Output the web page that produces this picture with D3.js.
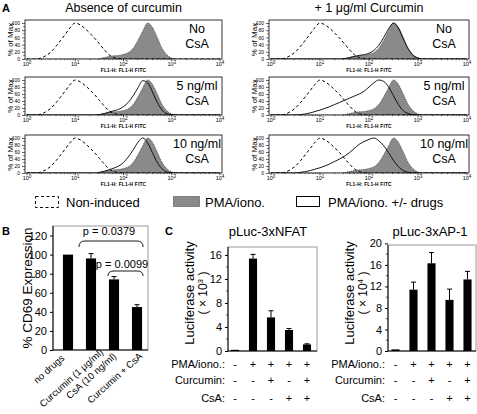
<!DOCTYPE html>
<html><head><meta charset="utf-8">
<script src="https://cdn.jsdelivr.net/npm/d3@7"></script>
<style>body{margin:0;background:#fff} svg{display:block;font-family:"Liberation Sans",Arial,sans-serif}</style>
</head><body><svg id="c" width="477" height="414"></svg>
<script>
// ---------- DATA ----------
// Panel A: flow histograms, log10(FL1-H) grid and % of Max values
const fl1Log = [0.0,0.1,0.2,0.3,0.4,0.5,0.6,0.7,0.8,0.9,1.0,1.1,1.2,1.3,1.4,1.5,1.6,1.7,1.8,1.9,2.0,2.1,2.2,2.3,2.4,2.5,2.6,2.7,2.8,2.9,3.0,3.1,3.2,3.3,3.4,3.5,3.6,3.7,3.8,3.9,4.0];
const nonInduced = [0,0,0,3,10,20,35,52,70,88,100,95,85,72,58,42,26,12,4,1,0,0,0,0,0,0,0,0,0,0,0,0,0,0,0,0,0,0,0,0,0];
const pmaIono    = [0,0,0,0,0,0,0,0,0,0,0,0,0,0,0,1,4,7,9,10,13,18,30,52,78,100,88,60,30,12,3,0,0,0,0,0,0,0,0,0,0];
const curcOnly   = [0,0,0,0,0,0,0,0,0,0,0,0,0,0,0,1,4,7,10,12,16,24,38,60,84,100,86,56,28,10,3,0,0,0,0,0,0,0,0,0,0];
const csa5       = [0,0,0,0,0,0,0,0,0,0,0,0,0,0,0,1,4,8,12,16,24,36,55,78,98,92,66,36,14,4,1,0,0,0,0,0,0,0,0,0,0];
const csa10      = [0,0,0,0,0,0,0,0,0,0,0,0,0,0,0,2,5,9,14,20,30,46,66,88,100,86,58,30,12,3,0,0,0,0,0,0,0,0,0,0,0];
const curcCsa5   = [0,0,0,0,0,0,1,3,6,10,14,19,24,30,36,42,48,54,60,68,80,92,100,96,80,55,30,12,4,1,0,0,0,0,0,0,0,0,0,0,0];
const curcCsa10  = [0,0,0,0,0,0,2,4,7,11,15,20,26,33,40,48,58,70,82,90,96,100,92,78,58,36,18,7,2,0,0,0,0,0,0,0,0,0,0,0,0];
const columnTitles = ["Absence of curcumin", "+ 1 \u03bcg/ml Curcumin"];
const rowLabels = [["No","CsA"],["5 ng/ml","CsA"],["10 ng/ml","CsA"]];
const histDecades = [0,1,2,3,4];
const histYTicks = [0,20,40,60,80,100];

// Panel B
const cd69Labels = ["no drugs","Curcumin (1 \u03bcg/ml)","CsA (10 ng/ml)","Curcumin + CsA"];
const cd69Values = [100, 96, 74, 45];
const cd69Errors = [0, 5, 3, 2.5];
const cd69Ticks = [0,20,40,60,80,100,120];
const pValues = ["p = 0.0379","p = 0.0099"];

// Panel C
const lucConditions = ["1","2","3","4","5"];
const nfatValues = [0.2, 15.4, 5.6, 3.5, 1.1];
const nfatErrors = [0, 0.7, 1.1, 0.25, 0.1];
const nfatTicks = [0,4,8,12,16];
const ap1Values = [0.3, 11.4, 16.3, 9.5, 13.3];
const ap1Errors = [0, 1.4, 2.0, 2.0, 1.5];
const ap1Ticks = [0,4,8,12,16,20];
const pmaRow  = ["-","+","+","+","+"];
const curcRow = ["-","-","+","-","+"];
const csaRow  = ["-","-","-","+","+"];
const tableNames = ["PMA/iono.:","Curcumin:","CsA:"];

// ---------- DRAW ----------
const svg = d3.select("#c");

// ===== Panel A =====
svg.append("text").attr("x",2).attr("y",12).attr("font-size",11).attr("font-weight","bold").text("A");
const cols = [{x0:25,x1:222},{x0:269,x1:469}];
const rows = [{y0:20,y1:59},{y0:77,y1:115},{y0:135,y1:173}];
const drugs = [[null,csa5,csa10],[curcOnly,curcCsa5,curcCsa10]];

cols.forEach((c,ci)=>{
  svg.append("text").attr("x",(c.x0+c.x1)/2).attr("y",12).attr("text-anchor","middle")
    .attr("font-size",12.5).text(columnTitles[ci]);
  rows.forEach((r,ri)=>{
    const g = svg.append("g");
    const x = d3.scaleLinear().domain([0,4]).range([c.x0+2,c.x1-2]);
    const y = d3.scaleLinear().domain([0,100]).range([r.y1,r.y0+3]);
    const cid = `clip${ci}${ri}`;
    g.append("clipPath").attr("id",cid).append("rect")
      .attr("x",c.x0).attr("y",r.y0).attr("width",c.x1-c.x0).attr("height",r.y1-r.y0);
    const pg = g.append("g").attr("clip-path",`url(#${cid})`);
    const area = d3.area().x((d,i)=>x(fl1Log[i])).y0(y(0)).y1(d=>y(d)).curve(d3.curveMonotoneX);
    const line = d3.line().x((d,i)=>x(fl1Log[i])).y(d=>y(d)).curve(d3.curveMonotoneX);
    pg.append("path").datum(pmaIono).attr("d",area).attr("fill","#8a8a8a");
    pg.append("path").datum(pmaIono).attr("d",line).attr("fill","none").attr("stroke","#3a3a3a")
      .attr("stroke-width",0.8).attr("stroke-dasharray","1,1");
    pg.append("path").datum(nonInduced).attr("d",line).attr("fill","none").attr("stroke","#000")
      .attr("stroke-width",1).attr("stroke-dasharray","3,2.5");
    const dr = drugs[ci][ri];
    if(dr) pg.append("path").datum(dr).attr("d",line).attr("fill","none").attr("stroke","#000").attr("stroke-width",0.9);
    g.append("rect").attr("x",c.x0).attr("y",r.y0).attr("width",c.x1-c.x0).attr("height",r.y1-r.y0)
      .attr("fill","none").attr("stroke","#000").attr("stroke-width",0.8);
    // x axis ticks
    const minor = [];
    for(let d=0; d<4; d++) for(let k=2;k<10;k++) minor.push(d+Math.log10(k));
    g.selectAll(null).data(minor).join("line").attr("x1",v=>x(v)).attr("x2",v=>x(v))
      .attr("y1",r.y1).attr("y2",r.y1+1.2).attr("stroke","#000").attr("stroke-width",0.5);
    g.selectAll(null).data(histDecades).join("line").attr("x1",v=>x(v)).attr("x2",v=>x(v))
      .attr("y1",r.y1).attr("y2",r.y1+2.2).attr("stroke","#000").attr("stroke-width",0.7);
    const tl = g.selectAll(null).data(histDecades).join("text")
      .attr("x",v=>x(v)).attr("y",r.y1+7).attr("text-anchor","middle").attr("font-size",5.5);
    tl.append("tspan").text("10");
    tl.append("tspan").attr("dy",-2.5).attr("font-size",4.5).text(v=>v);
    g.append("text").attr("x",x(2)).attr("y",r.y1+13).attr("text-anchor","middle")
      .attr("font-size",4.8).attr("font-weight","bold").attr("letter-spacing",0.2).text("FL1-H: FL1-H   FITC");
    // y axis
    const ya = d3.axisLeft(y).tickValues(histYTicks).tickSize(3).tickFormat(d3.format("d"));
    const ag = g.append("g").attr("transform",`translate(${c.x0},0)`).call(ya);
    ag.select(".domain").remove();
    ag.selectAll("text").attr("font-size",5).attr("font-family",'"Liberation Sans",Arial').attr("dx",1);
    ag.selectAll("line").attr("stroke-width",0.6);
    g.selectAll(null).data([10,30,50,70,90]).join("line").attr("x1",c.x0-2).attr("x2",c.x0)
      .attr("y1",v=>y(v)).attr("y2",v=>y(v)).attr("stroke","#000").attr("stroke-width",0.5);
    g.append("text").attr("transform",`translate(${c.x0-12},${(r.y0+r.y1)/2}) rotate(-90)`)
      .attr("text-anchor","middle").attr("font-size",8).text("% of Max");
    // corner labels
    rowLabels[ri].forEach((t,li)=>{
      g.append("text").attr("x",c.x1-25).attr("y",r.y0+13+li*15).attr("text-anchor","middle")
        .attr("font-size",12.5).text(t);
    });
  });
});

// Legend
const lg = svg.append("g");
lg.append("rect").attr("x",35.5).attr("y",196.5).attr("width",23).attr("height",11).attr("fill","none")
  .attr("stroke","#000").attr("stroke-dasharray","3,2.5");
lg.append("text").attr("x",66).attr("y",207).attr("font-size",13).text("Non-induced");
lg.append("rect").attr("x",173.5).attr("y",196.5).attr("width",26).attr("height",10).attr("fill","#8a8a8a")
  .attr("stroke","#3a3a3a").attr("stroke-dasharray","1,1");
lg.append("text").attr("x",205).attr("y",207).attr("font-size",13).text("PMA/iono.");
lg.append("rect").attr("x",296.5).attr("y",196.5).attr("width",23).attr("height",10).attr("fill","#fff")
  .attr("stroke","#000");
lg.append("text").attr("x",328).attr("y",207).attr("font-size",13).text("PMA/iono. +/- drugs");

// ===== Panel B =====
svg.append("text").attr("x",2).attr("y",235).attr("font-size",11).attr("font-weight","bold").text("B");
const bL=53, bR=148, bT=226, bB=350;
const xB = d3.scaleBand().domain(cd69Labels).range([56.5,148.5]).paddingInner(0.56).paddingOuter(0.28);
const yB = d3.scaleLinear().domain([0,130]).range([bB,bT]);
const gB = svg.append("g");
gB.append("rect").attr("x",bL).attr("y",bT).attr("width",bR-bL).attr("height",bB-bT)
  .attr("fill","none").attr("stroke","#999").attr("stroke-width",1);
gB.selectAll(null).data(cd69Values).join("rect")
  .attr("x",(d,i)=>xB(cd69Labels[i])).attr("width",xB.bandwidth())
  .attr("y",d=>yB(d)).attr("height",d=>bB-yB(d)).attr("fill","#000");
cd69Values.forEach((v,i)=>{
  if(!cd69Errors[i]) return;
  const cx = xB(cd69Labels[i])+xB.bandwidth()/2;
  gB.append("line").attr("x1",cx).attr("x2",cx).attr("y1",yB(v)).attr("y2",yB(v+cd69Errors[i])).attr("stroke","#000");
  gB.append("line").attr("x1",cx-2.5).attr("x2",cx+2.5).attr("y1",yB(v+cd69Errors[i])).attr("y2",yB(v+cd69Errors[i])).attr("stroke","#000");
});
const aB = gB.append("g").attr("transform",`translate(${bL},0)`).call(d3.axisLeft(yB).tickValues(cd69Ticks).tickSize(3));
aB.select(".domain").remove();
aB.selectAll("text").attr("font-size",11).attr("font-family",'"Liberation Sans",Arial');
gB.append("line").attr("x1",bL).attr("x2",bL).attr("y1",bT).attr("y2",bB).attr("stroke","#000");
gB.append("line").attr("x1",bL).attr("x2",bR).attr("y1",bB).attr("y2",bB).attr("stroke","#000");
gB.append("text").attr("transform",`translate(32,288) rotate(-90)`).attr("text-anchor","middle")
  .attr("font-size",13.5).text("% CD69 Expression");
const labShift = [[-3,359],[13,353],[3,357],[6,357]];
cd69Labels.forEach((t,i)=>{
  const cx = xB(t)+xB.bandwidth()/2+labShift[i][0];
  gB.append("text").attr("transform",`translate(${cx},${labShift[i][1]}) rotate(-42)`).attr("text-anchor","end")
    .attr("font-size",9.6).text(t);
});
// p-value brackets
function brace(x1,x2,yt,h){
  return `M${x1},${yt+h} Q${x1},${yt} ${x1+6},${yt} L${x2-6},${yt} Q${x2},${yt} ${x2},${yt+h}`;
}
gB.append("text").attr("x",109).attr("y",235).attr("text-anchor","middle").attr("font-size",11).text(pValues[0]);
gB.append("path").attr("d",brace(xB(cd69Labels[1])-7, xB(cd69Labels[3])+xB.bandwidth()+1,241,6))
  .attr("fill","none").attr("stroke","#000").attr("stroke-width",0.9);
gB.append("text").attr("x",122).attr("y",268).attr("text-anchor","middle").attr("font-size",11).text(pValues[1]);
gB.append("path").attr("d",brace(xB(cd69Labels[2])-1, xB(cd69Labels[3])+xB.bandwidth()+1,271,5))
  .attr("fill","none").attr("stroke","#000").attr("stroke-width",0.9);

// ===== Panel C =====
svg.append("text").attr("x",165).attr("y",235).attr("font-size",11).attr("font-weight","bold").text("C");
function lucPanel(opt){
  const g = svg.append("g");
  const x = d3.scaleBand().domain(lucConditions).range(opt.xr).paddingInner(0.55).paddingOuter(0.275);
  const y = d3.scaleLinear().domain(opt.yd).range([opt.bottom,opt.top]);
  g.append("rect").attr("x",opt.left).attr("y",opt.top).attr("width",opt.right-opt.left).attr("height",opt.bottom-opt.top)
    .attr("fill","none").attr("stroke","#999");
  g.selectAll(null).data(opt.values).join("rect").attr("x",(d,i)=>x(lucConditions[i])).attr("width",x.bandwidth())
    .attr("y",d=>y(d)).attr("height",d=>opt.bottom-y(d)).attr("fill","#000");
  opt.values.forEach((v,i)=>{
    if(!opt.errors[i]) return;
    const cx = x(lucConditions[i])+x.bandwidth()/2;
    const e = y(v+opt.errors[i]);
    g.append("line").attr("x1",cx).attr("x2",cx).attr("y1",y(v)).attr("y2",e).attr("stroke","#000");
    g.append("line").attr("x1",cx-2.5).attr("x2",cx+2.5).attr("y1",e).attr("y2",e).attr("stroke","#000");
  });
  const a = g.append("g").attr("transform",`translate(${opt.left},0)`).call(d3.axisLeft(y).tickValues(opt.ticks).tickSize(3));
  a.select(".domain").remove();
  a.selectAll("text").attr("font-size",11).attr("font-family",'"Liberation Sans",Arial');
  const mins = opt.ticks.slice(0,-1).map((t,i)=>(t+opt.ticks[i+1])/2);
  g.selectAll(null).data(mins).join("line").attr("x1",opt.left-2).attr("x2",opt.left).attr("y1",v=>y(v)).attr("y2",v=>y(v)).attr("stroke","#000").attr("stroke-width",0.7);
  g.append("line").attr("x1",opt.left).attr("x2",opt.left).attr("y1",opt.top).attr("y2",opt.bottom).attr("stroke","#000");
  g.append("line").attr("x1",opt.left).attr("x2",opt.right).attr("y1",opt.bottom).attr("y2",opt.bottom).attr("stroke","#000");
  g.append("text").attr("x",opt.tx).attr("y",236).attr("text-anchor","middle").attr("font-size",13).text(opt.title);
  const cy = 293;
  g.append("text").attr("transform",`translate(${opt.left-34},${cy}) rotate(-90)`).attr("text-anchor","middle")
    .attr("font-size",13).text("Luciferase activity");
  const sub = g.append("text").attr("transform",`translate(${opt.left-21},${cy}) rotate(-90)`).attr("text-anchor","middle")
    .attr("font-size",12);
  sub.append("tspan").text("( \u00d7 10");
  sub.append("tspan").attr("dy",-4).attr("font-size",8).text(opt.exp);
  sub.append("tspan").attr("dy",4).text(" )");
  // table
  const rowsT = [pmaRow,curcRow,csaRow];
  const ys = [368,384,402];
  tableNames.forEach((n,ri)=>{
    g.append("text").attr("x",opt.left-3).attr("y",ys[ri]).attr("text-anchor","end").attr("font-size",11).text(n);
    g.selectAll(null).data(rowsT[ri]).join("text").attr("x",(d,i)=>x(lucConditions[i])+x.bandwidth()/2)
      .attr("y",ys[ri]).attr("text-anchor","middle").attr("font-size",11).text(d=>d);
  });
}
lucPanel({title:"pLuc-3xNFAT", tx:268, xr:[226,316], left:228, right:317, top:247, bottom:351, yd:[0,17.33],
  values:nfatValues, errors:nfatErrors, ticks:nfatTicks, exp:"3"});
lucPanel({title:"pLuc-3xAP-1", tx:430, xr:[386.5,476.5], left:388, right:476, top:245, bottom:351, yd:[0,19.7],
  values:ap1Values, errors:ap1Errors, ticks:ap1Ticks, exp:"4"});
</script></body></html>
